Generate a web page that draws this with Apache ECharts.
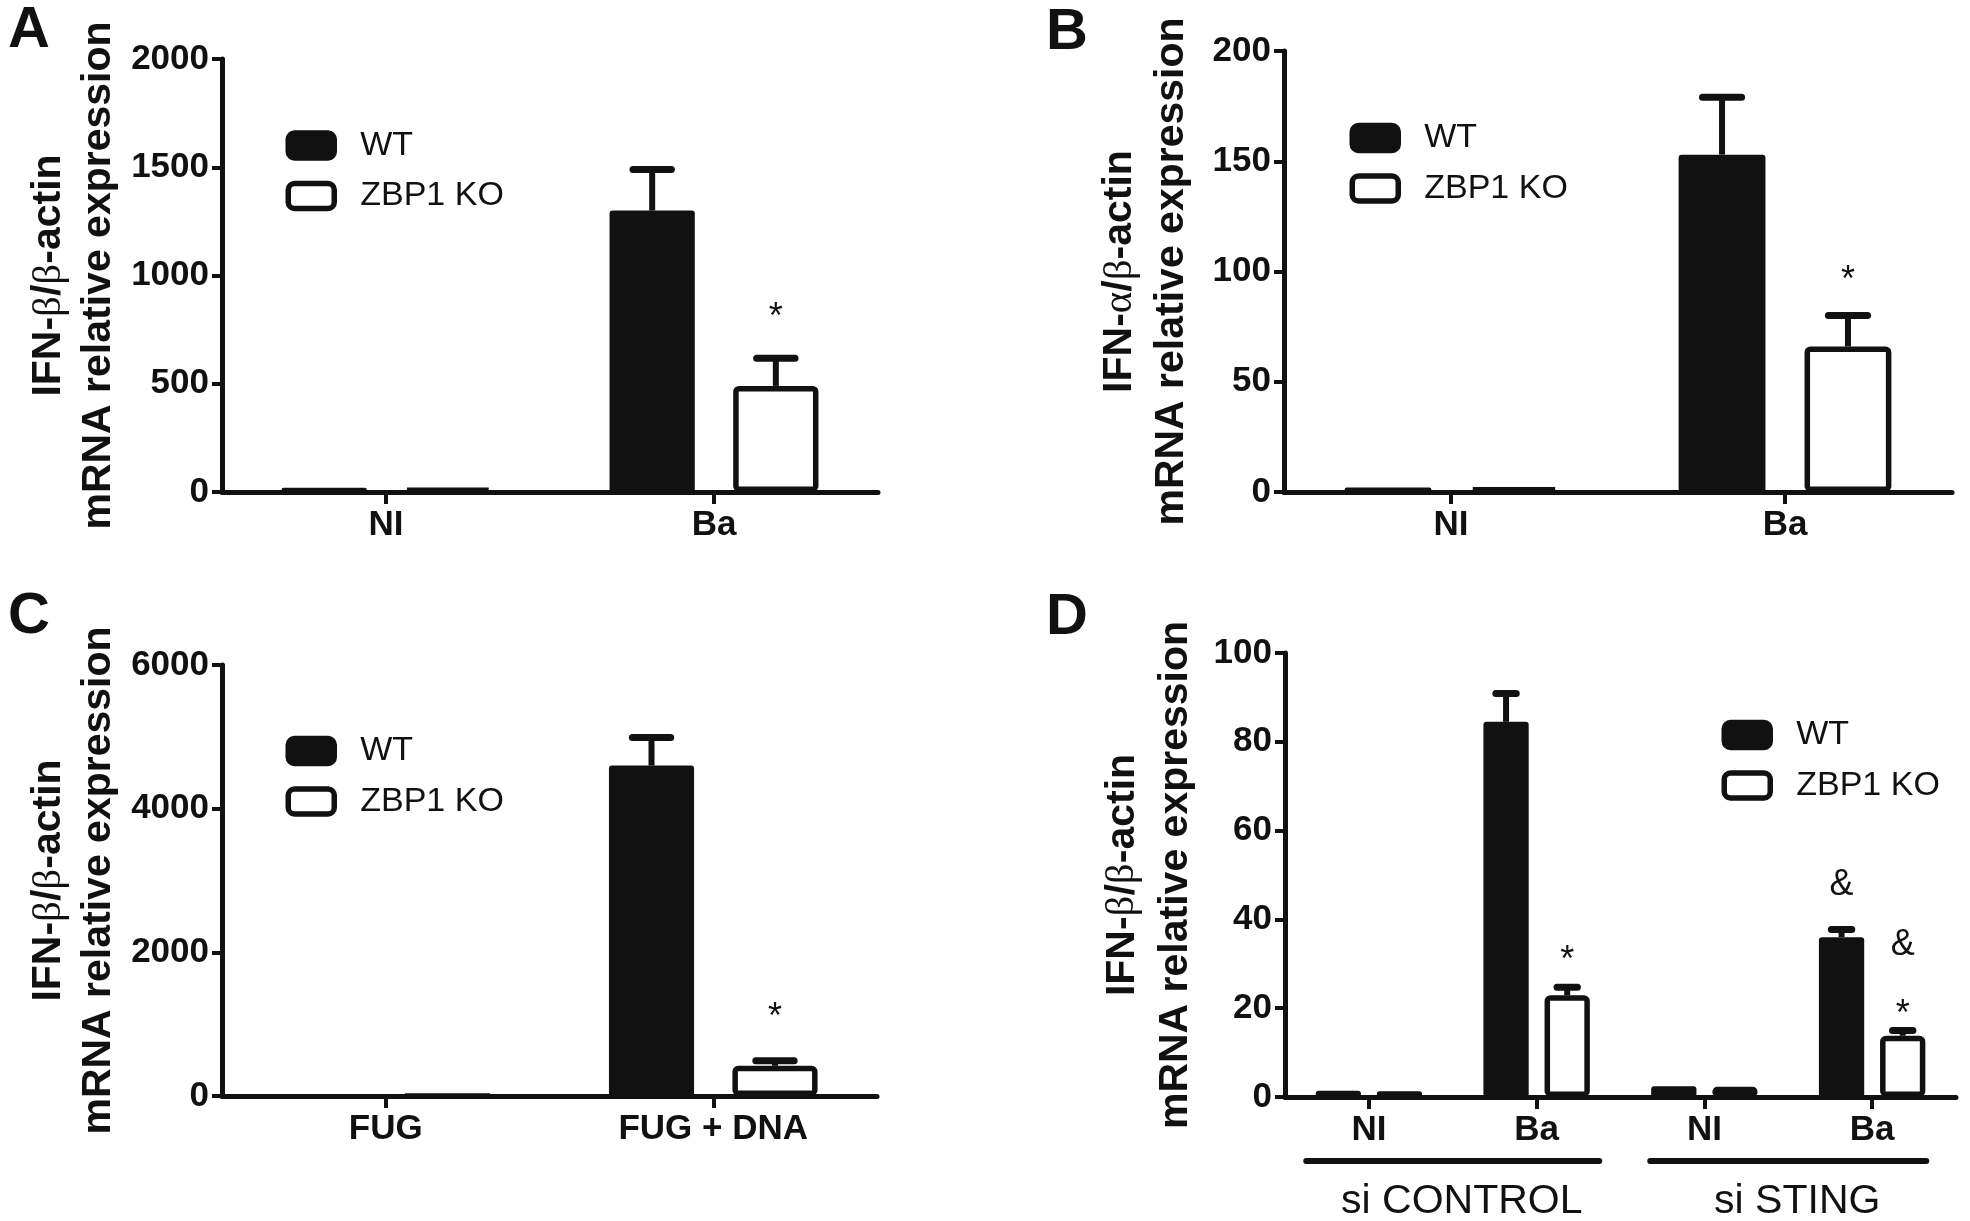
<!DOCTYPE html>
<html><head><meta charset="utf-8">
<script src="https://cdn.jsdelivr.net/npm/echarts@6/dist/echarts.min.js"></script>
<style>html,body{margin:0;padding:0;background:#fff;}#c{width:1970px;height:1221px;}</style>
</head><body><div id="c"></div>
<script>
// ---------------- DATA ----------------
// Panel A
const catA = ['NI', 'Ba'];
const wtA = [20, 1300];
const wtErrA = [0, 190];
const koA = [16, 490];
const koErrA = [0, 128];
const markWtA = ['', ''];
const markKoA = ['', '*'];
const yMaxA = 2000, yStepA = 500;

// Panel B
const catB = ['NI', 'Ba'];
const wtB = [2.0, 153];
const wtErrB = [0, 26];
const koB = [2.0, 66];
const koErrB = [0, 14];
const markWtB = ['', ''];
const markKoB = ['', '*'];
const yMaxB = 200, yStepB = 50;

// Panel C
const catC = ['FUG', 'FUG + DNA'];
const wtC = [1, 4600];
const wtErrC = [0, 390];
const koC = [1, 420];
const koErrC = [0, 70];
const markWtC = ['', ''];
const markKoC = ['', '*'];
const yMaxC = 6000, yStepC = 2000;

// Panel D
const catD = ['NI', 'Ba', 'NI', 'Ba'];
const groupD = ['si CONTROL', 'si STING'];
const wtD = [1.4, 84.5, 2.4, 36];
const wtErrD = [0, 6.4, 0, 1.7];
const koD = [1.3, 22.9, 2.3, 13.8];
const koErrD = [0, 1.8, 0, 1.2];
const markWtD = ['', '', '', '&'];
const markKoD = ['', '*', '', '&\n*'];
const yMaxD = 100, yStepD = 20;

const seriesNames = ['WT', 'ZBP1 KO'];
const panelLetters = ['A', 'B', 'C', 'D'];
const yTitleA = ['IFN-', 'β', '/', 'β', '-actin', 'mRNA relative expression'];
const yTitleB = ['IFN-', 'α', '/', 'β', '-actin', 'mRNA relative expression'];

// ---------------- STYLE ----------------
const FONT = '"Liberation Sans", Arial, Helvetica, sans-serif';
const GREEK = '"Liberation Serif", "DejaVu Serif", serif';
const BLACK = '#111111';

function yName(t) {
  return '{b|' + t[0] + '}{g|' + t[1] + '}{b|' + t[2] + '}{g|' + t[3] + '}{b|' + t[4] + '}\n{b|' + t[5] + '}';
}

const panels = [
  {cats: catA, wt: wtA, wtErr: wtErrA, ko: koA, koErr: koErrA, mw: markWtA, mk: markKoA, max: yMaxA, step: yStepA,
   title: yTitleA, grid: {left: 222, top: 59, width: 656, height: 433}, nameGap: 98, lh: 50,
   bw: 0.26, gap: 0.45, wGap: 22, kGap: 22,
   legend: {left: 285.5, top: 128.5}},
  {cats: catB, wt: wtB, wtErr: wtErrB, ko: koB, koErr: koErrB, mw: markWtB, mk: markKoB, max: yMaxB, step: yStepB,
   title: yTitleB, grid: {left: 1284, top: 51, width: 668, height: 441}, nameGap: 86, lh: 52,
   bw: 0.26, gap: 0.45, wGap: 17, kGap: 17,
   legend: {left: 1349.5, top: 121}},
  {cats: catC, wt: wtC, wtErr: wtErrC, ko: koC, koErr: koErrC, mw: markWtC, mk: markKoC, max: yMaxC, step: yStepC,
   title: yTitleA, grid: {left: 222, top: 665, width: 655, height: 431}, nameGap: 98, lh: 50,
   bw: 0.26, gap: 0.45, wGap: 25, kGap: 25,
   legend: {left: 285.5, top: 734}},
  {cats: catD, wt: wtD, wtErr: wtErrD, ko: koD, koErr: koErrD, mw: markWtD, mk: markKoD, max: yMaxD, step: yStepD,
   title: yTitleA, grid: {left: 1285, top: 653, width: 671, height: 444}, nameGap: 83, lh: 53,
   bw: 0.27, gap: 0.35, wGap: 27, kGap: 8,
   legend: {left: 1721.5, top: 718}}
];

function errorSeries(idx, p, values, errs, marks, side, markGap) {
  return {
    type: 'custom', xAxisIndex: idx, yAxisIndex: idx, z: 4, silent: true,
    dimensions: ['x', 'y', 'e'], encode: {x: 0, y: 1},
    data: values.map((v, i) => [i, v, errs[i]]),
    renderItem: function (params, api) {
      const i = api.value(0), v = api.value(1), e = api.value(2);
      const base = api.coord([i, v]);
      const top = api.coord([i, v + e]);
      const band = api.size([1, 0])[0];
      const w = band * p.bw;
      const x = base[0] + side * (w + w * p.gap) / 2;
      const cap = w * 0.45 / 2;
      const ch = [];
      if (e > 0) {
        ch.push({type: 'line', shape: {x1: x, y1: base[1], x2: x, y2: top[1]}, style: {stroke: BLACK, lineWidth: 6}});
        ch.push({type: 'line', shape: {x1: x - cap, y1: top[1], x2: x + cap, y2: top[1]}, style: {stroke: BLACK, lineWidth: 7, lineCap: 'round'}});
      }
      const m = marks[params.dataIndex];
      if (m) {
        const stacked = m.indexOf('\n') >= 0;
        ch.push({type: 'text', style: {text: m, x: x, y: top[1] - (stacked ? markGap - 28 : markGap),
          align: 'center', verticalAlign: 'bottom',
          fontSize: 36, fontFamily: FONT, fill: BLACK, lineHeight: stacked ? 70 : 36}});
      }
      return {type: 'group', children: ch};
    }
  };
}

const option = {
  animation: false,
  backgroundColor: '#ffffff',
  title: panelLetters.map((t, i) => ({
    text: t, left: [8, 1046, 8, 1046][i], top: [2, 4, 588, 589][i], padding: 0,
    textStyle: {fontSize: 58, fontWeight: 'bold', fontFamily: FONT, color: BLACK}
  })),
  grid: panels.map(p => Object.assign({outerBoundsMode: 'none', containLabel: false}, p.grid)),
  legend: panels.map(p => ({
    left: p.legend.left, top: p.legend.top, orient: 'vertical', padding: 0,
    data: seriesNames, itemWidth: 46, itemHeight: 25, itemGap: 16.5, icon: 'roundRect',
    selectedMode: false,
    itemStyle: {borderColor: BLACK, borderWidth: 5.5},
    textStyle: {fontSize: 34, fontFamily: FONT, color: BLACK, lineHeight: 25, padding: [0, 0, 0, 21]}
  })),
  xAxis: panels.map((p, i) => ({
    type: 'category', gridIndex: i, data: p.cats,
    axisLine: {show: true, lineStyle: {color: BLACK, width: 5}},
    axisTick: {show: true, alignWithLabel: true, length: 12, lineStyle: {color: BLACK, width: 4}},
    axisLabel: {interval: 0, margin: 16, fontSize: 35, fontWeight: 'bold', fontFamily: FONT, color: BLACK},
    splitLine: {show: false}
  })).concat([{
    type: 'category', gridIndex: 3, data: groupD, position: 'bottom',
    axisLine: {show: false}, axisTick: {show: false}, splitLine: {show: false},
    axisLabel: {
      interval: 0, margin: 61,
      formatter: function (v, i) { return '{l' + i + '| }\n{t|' + v + '}'; },
      rich: {
        l0: {width: 299, height: 6, lineHeight: 6, fontSize: 4, backgroundColor: BLACK, borderRadius: 3},
        l1: {width: 282, height: 6, lineHeight: 6, fontSize: 4, backgroundColor: BLACK, borderRadius: 3},
        t: {fontSize: 41, fontFamily: FONT, color: BLACK, lineHeight: 76, padding: [0, 0, 0, 18]}
      }
    }
  }]),
  yAxis: panels.map((p, i) => ({
    type: 'value', gridIndex: i, min: 0, max: p.max, interval: p.step,
    name: yName(p.title), nameLocation: 'middle', nameGap: p.nameGap,
    nameTextStyle: {
      rich: {
        b: {fontSize: 41, fontWeight: 'bold', fontFamily: FONT, color: BLACK, lineHeight: p.lh},
        g: {fontSize: 41, fontWeight: 'normal', fontFamily: GREEK, color: BLACK, lineHeight: p.lh}
      }
    },
    axisLine: {show: true, lineStyle: {color: BLACK, width: 5}},
    axisTick: {show: true, length: 10, lineStyle: {color: BLACK, width: 4}},
    axisLabel: {margin: 13, fontSize: 35, fontWeight: 'bold', fontFamily: FONT, color: BLACK,
      formatter: function (v) { return String(v); }},
    splitLine: {show: false}
  })),
  series: []
};

panels.forEach((p, i) => {
  option.series.push({
    type: 'bar', name: seriesNames[0], xAxisIndex: i, yAxisIndex: i, data: p.wt,
    barWidth: (p.bw * 100) + '%', barGap: (p.gap * 100) + '%', z: 2,
    itemStyle: {color: BLACK, borderColor: BLACK, borderWidth: 0, borderRadius: 3}
  });
  option.series.push({
    type: 'bar', name: seriesNames[1], xAxisIndex: i, yAxisIndex: i, data: p.ko,
    barWidth: (p.bw * 100) + '%', barGap: (p.gap * 100) + '%', z: 2,
    itemStyle: {color: '#ffffff', borderColor: BLACK, borderWidth: 5.5, borderRadius: 3}
  });
  option.series.push(errorSeries(i, p, p.wt, p.wtErr, p.mw, -1, p.wGap));
  option.series.push(errorSeries(i, p, p.ko, p.koErr, p.mk, 1, p.kGap));
});

const chart = echarts.init(document.getElementById('c'), null, {renderer: 'canvas'});
chart.setOption(option);
</script></body></html>
